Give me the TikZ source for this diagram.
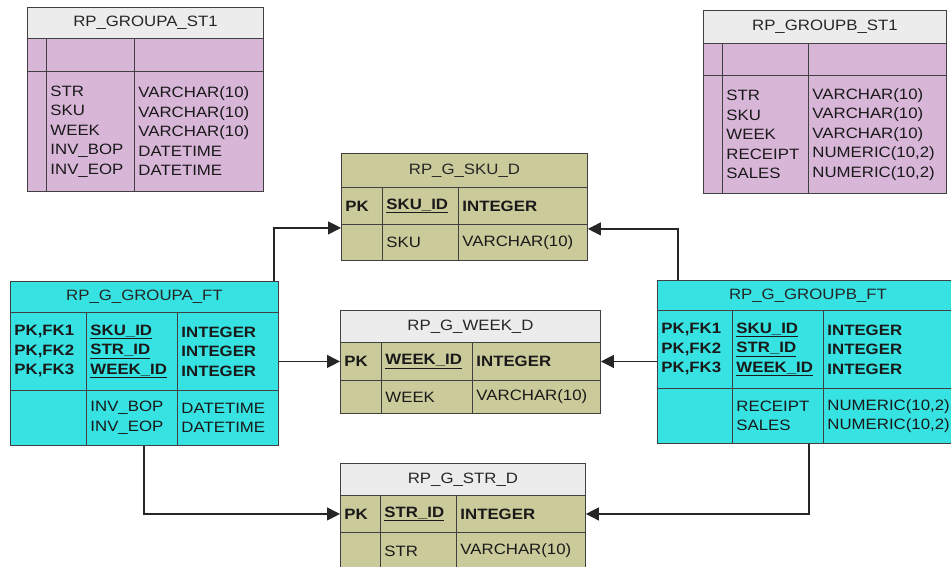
\documentclass[tikz,border=0pt]{standalone}
\usepackage{fontspec}
\setmainfont{Liberation Sans}[FakeStretch=1.12]
\usepackage{xcolor}
\usepackage{tikz}
\usetikzlibrary{arrows.meta, positioning}

\definecolor{stgpurple}{HTML}{D8B6D8}
\definecolor{hdrgray}{HTML}{ECECEC}
\definecolor{dimkhaki}{HTML}{CACA9B}
\definecolor{factcyan}{HTML}{36E2E2}

\begin{document}
\begin{tikzpicture}[x=1pt, y=-1pt, >={Triangle[length=13pt, width=13pt]},
        hdr/.style 2 args={rectangle, draw=black!75, line width=0.9pt, anchor=north west, inner sep=0pt, minimum width=#1, minimum height=#2, align=center, text=black!85, font=\fontsize{15}{19.5}\selectfont},
        cell/.style 2 args={rectangle, draw=black!75, line width=0.9pt, anchor=north west, inner xsep=4pt, inner ysep=0pt, minimum width=#1, minimum height=#2, text width=#1-8pt, align=left, text=black!90, font=\fontsize{15}{19.5}\selectfont},
        keyrow/.style={font=\fontsize{15}{19.5}\selectfont\bfseries},
        arr/.style={->, draw=black!85, line width=1.2pt}]

        \useasboundingbox (0,0) rectangle (951,566);
        \clip (0,0) rectangle (951,566);

        % staging tables
        \node[hdr={236}{31}, fill=hdrgray] (sta-t) at (27,7) {RP\_GROUPA\_ST1};
        \node[cell={19}{33}, fill=stgpurple] (sta-a1) at (27,38) {};
        \node[cell={88}{33}, fill=stgpurple] (sta-b1) at (46,38) {};
        \node[cell={129}{33}, fill=stgpurple] (sta-c1) at (134,38) {};
        \node[cell={19}{120}, fill=stgpurple] (sta-a2) at (27,71) {};
        \node[cell={88}{120}, fill=stgpurple] (sta-b2) at (46,71) {STR\\SKU\\WEEK\\INV\_BOP\\INV\_EOP};
        \node[cell={129}{120}, fill=stgpurple] (sta-c2) at (134,71) {VARCHAR(10)\\VARCHAR(10)\\VARCHAR(10)\\DATETIME\\DATETIME};

        \node[hdr={243}{33}, fill=hdrgray] (stb-t) at (703,10) {RP\_GROUPB\_ST1};
        \node[cell={19}{32}, fill=stgpurple] (stb-a1) at (703,43) {};
        \node[cell={86}{32}, fill=stgpurple] (stb-b1) at (722,43) {};
        \node[cell={138}{32}, fill=stgpurple] (stb-c1) at (808,43) {};
        \node[cell={19}{118}, fill=stgpurple] (stb-a2) at (703,75) {};
        \node[cell={86}{118}, fill=stgpurple] (stb-b2) at (722,75) {STR\\SKU\\WEEK\\RECEIPT\\SALES};
        \node[cell={138}{118}, fill=stgpurple] (stb-c2) at (808,75) {VARCHAR(10)\\VARCHAR(10)\\VARCHAR(10)\\NUMERIC(10,2)\\NUMERIC(10,2)};

        % dimensions
        \node[hdr={246}{34}, fill=dimkhaki] (skud-t) at (341,153) {RP\_G\_SKU\_D};
        \node[cell={41}{37}, fill=dimkhaki, keyrow] (skud-pk) at (341,187) {PK};
        \node[cell={76}{37}, fill=dimkhaki, keyrow] (skud-id) at (382,187) {\underline{SKU\_ID}};
        \node[cell={129}{37}, fill=dimkhaki, keyrow] (skud-ty) at (458,187) {INTEGER};
        \node[cell={41}{36}, fill=dimkhaki] (skud-e) at (341,224) {};
        \node[cell={76}{36}, fill=dimkhaki] (skud-col) at (382,224) {SKU};
        \node[cell={129}{36}, fill=dimkhaki] (skud-cty) at (458,224) {VARCHAR(10)};

        \node[hdr={260}{32}, fill=hdrgray] (weekd-t) at (340,310) {RP\_G\_WEEK\_D};
        \node[cell={41}{38}, fill=dimkhaki, keyrow] (weekd-pk) at (340,342) {PK};
        \node[cell={91}{38}, fill=dimkhaki, keyrow] (weekd-id) at (381,342) {\underline{WEEK\_ID}};
        \node[cell={128}{38}, fill=dimkhaki, keyrow] (weekd-ty) at (472,342) {INTEGER};
        \node[cell={41}{33}, fill=dimkhaki] (weekd-e) at (340,380) {};
        \node[cell={91}{33}, fill=dimkhaki] (weekd-col) at (381,380) {WEEK};
        \node[cell={128}{33}, fill=dimkhaki] (weekd-cty) at (472,380) {VARCHAR(10)};

        \node[hdr={245}{32}, fill=hdrgray] (strd-t) at (340,463) {RP\_G\_STR\_D};
        \node[cell={40}{37}, fill=dimkhaki, keyrow] (strd-pk) at (340,495) {PK};
        \node[cell={76}{37}, fill=dimkhaki, keyrow] (strd-id) at (380,495) {\underline{STR\_ID}};
        \node[cell={129}{37}, fill=dimkhaki, keyrow] (strd-ty) at (456,495) {INTEGER};
        \node[cell={40}{37}, fill=dimkhaki] (strd-e) at (340,532) {};
        \node[cell={76}{37}, fill=dimkhaki] (strd-col) at (380,532) {STR};
        \node[cell={129}{37}, fill=dimkhaki] (strd-cty) at (456,532) {VARCHAR(10)};

        % facts
        \node[hdr={268}{31}, fill=factcyan] (gaft-t) at (10,281) {RP\_G\_GROUPA\_FT};
        \node[cell={76}{78}, fill=factcyan, keyrow] (gaft-pk1) at (10,312) {PK,FK1\\PK,FK2\\PK,FK3};
        \node[cell={91}{78}, fill=factcyan, keyrow] (gaft-id1) at (86,312) {\underline{SKU\_ID}\\\underline{STR\_ID}\\\underline{WEEK\_ID}};
        \node[cell={101}{78}, fill=factcyan, keyrow] (gaft-ty1) at (177,312) {INTEGER\\INTEGER\\INTEGER};
        \node[cell={76}{55}, fill=factcyan] (gaft-pk2) at (10,390) {};
        \node[cell={91}{55}, fill=factcyan] (gaft-id2) at (86,390) {INV\_BOP\\INV\_EOP};
        \node[cell={101}{55}, fill=factcyan] (gaft-ty2) at (177,390) {DATETIME\\DATETIME};

        \node[hdr={301}{30}, fill=factcyan] (gbft-t) at (657,280) {RP\_G\_GROUPB\_FT};
        \node[cell={75}{78}, fill=factcyan, keyrow] (gbft-pk1) at (657,310) {PK,FK1\\PK,FK2\\PK,FK3};
        \node[cell={91}{78}, fill=factcyan, keyrow] (gbft-id1) at (732,310) {\underline{SKU\_ID}\\\underline{STR\_ID}\\\underline{WEEK\_ID}};
        \node[cell={135}{78}, fill=factcyan, keyrow] (gbft-ty1) at (823,310) {INTEGER\\INTEGER\\INTEGER};
        \node[cell={75}{55}, fill=factcyan] (gbft-pk2) at (657,388) {};
        \node[cell={91}{55}, fill=factcyan] (gbft-id2) at (732,388) {RECEIPT\\SALES};
        \node[cell={135}{55}, fill=factcyan] (gbft-ty2) at (823,388) {NUMERIC(10,2)\\NUMERIC(10,2)};

        % references
        \draw[arr] ([xshift=-5pt]gaft-t.north east) |- ([yshift=-3pt]skud-pk.south west);
        \draw[arr] ([xshift=21pt]gbft-t.north west) |- ([yshift=-4pt]skud-ty.south east);
        \draw[arr] (gaft-ty1.east |- weekd-pk.west) -- (weekd-pk.west);
        \draw[arr] (gbft-pk1.west |- weekd-ty.east) -- (weekd-ty.east);
        \draw[arr] ([xshift=134pt]gaft-pk2.south west) |- (strd-pk.west);
        \draw[arr] ([xshift=152pt]gbft-pk2.south west) |- (strd-ty.east);
    \end{tikzpicture}
\end{document}
